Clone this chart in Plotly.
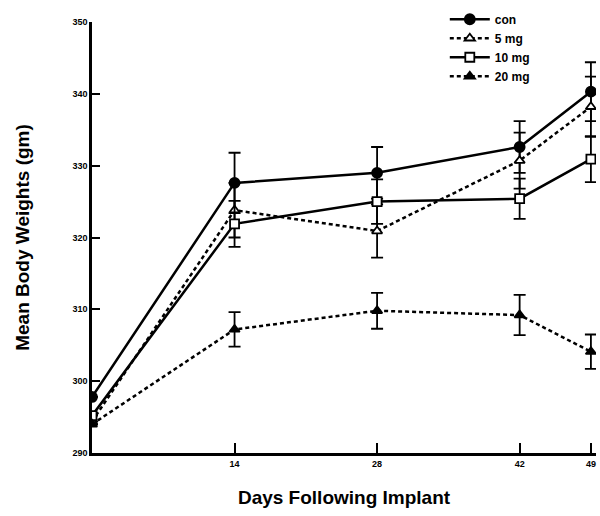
import plotly.graph_objects as go

days = [0, 14, 28, 42, 49]
series_names = ["con", "5 mg", "10 mg", "20 mg"]
con = [297.8, 327.6, 329.0, 332.6, 340.3]
con_err = [None, 4.2, 3.6, 3.6, 4.1]
mg5 = [294.4, 323.8, 320.9, 330.7, 338.2]
mg5_err = [None, 3.8, 3.7, 3.9, 4.2]
mg10 = [295.2, 321.9, 325.0, 325.4, 330.9]
mg10_err = [None, 3.2, 3.1, 2.8, 3.2]
mg20 = [294.0, 307.2, 309.8, 309.2, 304.1]
mg20_err = [None, 2.4, 2.5, 2.8, 2.4]
x_ticks = [14, 28, 42, 49]
y_ticks = [290, 300, 310, 320, 330, 340, 350]

FONT = "Liberation Sans, Arial, sans-serif"

styles = [
    (con, con_err, "solid", "circle", "black"),
    (mg5, mg5_err, "4px,3px", "triangle-up", "white"),
    (mg10, mg10_err, "solid", "square", "white"),
    (mg20, mg20_err, "4px,3px", "triangle-up", "black"),
]

fig = go.Figure()
for name, (vals, errs, dash, sym, fill) in zip(series_names, styles):
    fig.add_trace(go.Scatter(
        x=days, y=vals, name=name, mode="lines+markers",
        line=dict(color="black", width=2.5, dash=dash),
        marker=dict(symbol=sym, size=10 if sym == "circle" else 9, color=fill,
                    line=dict(color="black", width=1.8)),
        error_y=dict(type="data", array=errs, visible=True,
                     color="black", thickness=1.8, width=6),
    ))

fig.update_layout(
    width=600, height=516,
    margin=dict(l=92, r=4, t=22, b=63),
    paper_bgcolor="white", plot_bgcolor="white",
    font=dict(family=FONT, color="black"),
    showlegend=True,
    legend=dict(x=0.70, y=1.04, xanchor="left", yanchor="top",
                bgcolor="rgba(0,0,0,0)", tracegroupgap=0,
                font=dict(family=FONT, size=12, weight="bold"),
                itemwidth=40),
    xaxis=dict(
        range=[0, 49.5], tickmode="array", tickvals=x_ticks,
        ticktext=[str(t) for t in x_ticks],
        ticks="inside", ticklen=10, tickwidth=1.5, tickcolor="black",
        showline=True, linecolor="black", linewidth=2.5,
        showgrid=False, zeroline=False,
        tickfont=dict(family=FONT, size=9, weight="bold"),
        title=dict(text="Days Following Implant", standoff=24,
                   font=dict(family=FONT, size=19, weight="bold")),
        automargin=False,
    ),
    yaxis=dict(
        range=[290, 350], tickmode="array", tickvals=y_ticks,
        ticktext=[str(t) for t in y_ticks],
        ticks="inside", ticklen=8, tickwidth=1.5, tickcolor="black",
        showline=True, linecolor="black", linewidth=2.5,
        showgrid=False, zeroline=False,
        tickfont=dict(family=FONT, size=9, weight="bold"),
        title=dict(text="Mean Body Weights (gm)", standoff=38,
                   font=dict(family=FONT, size=19, weight="bold")),
        automargin=False,
    ),
)

fig.write_html("out.html", config={"displayModeBar": False},
               post_script="document.body.style.margin='0';")
